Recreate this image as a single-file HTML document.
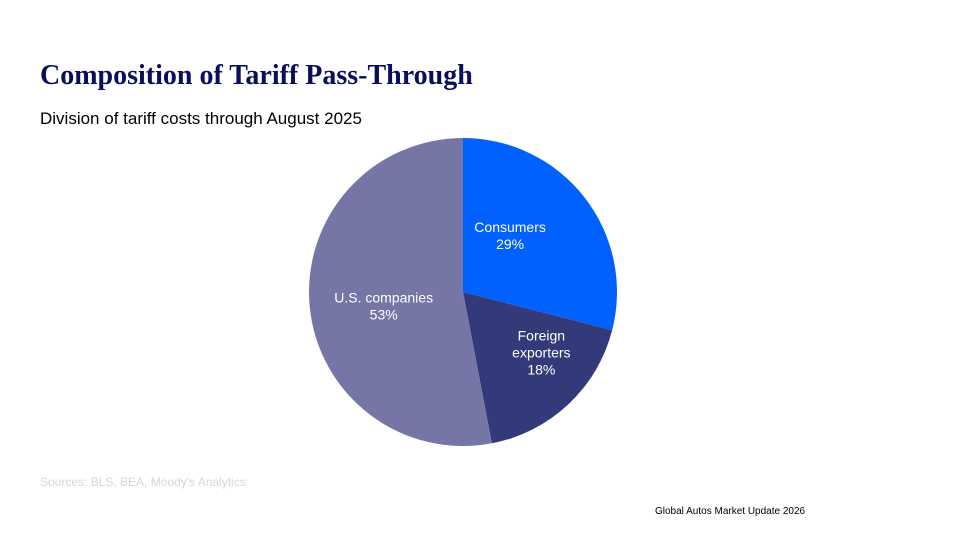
<!DOCTYPE html>
<html><head><meta charset="utf-8"><style>
html,body{margin:0;padding:0;background:#fff;width:960px;height:540px;overflow:hidden;position:relative;font-family:"Liberation Sans",sans-serif}
#title{position:absolute;left:40px;top:60px;font-family:"Liberation Serif",serif;font-weight:bold;font-size:28px;color:#0a0f5c;white-space:nowrap}
#sub{position:absolute;left:40px;top:109px;font-size:17px;color:#000;white-space:nowrap}
#src{position:absolute;left:40px;top:475px;font-size:12px;color:#d6d6d6}
#foot{position:absolute;left:655px;top:506px;font-size:10px;color:#000}
svg{position:absolute;left:0;top:0}
</style></head><body>
<div id="title">Composition of Tariff Pass-Through</div>
<div id="sub">Division of tariff costs through August 2025</div>
<svg id="chart" width="960" height="540"></svg>
<div id="src">Sources: BLS, BEA, Moody's Analytics</div>
<div id="foot">Global Autos Market Update 2026</div>
<script>
const categories = [["Consumers"], ["Foreign","exporters"], ["U.S. companies"]];
const values = [29, 18, 53];
const colors = ["#0061ff", "#333a7a", "#7676a6"];
const cx = 463, cy = 292, r = 154;
const svg = document.getElementById('chart');
const NS = 'http://www.w3.org/2000/svg';
const total = values.reduce((a,b)=>a+b,0);
function pt(a, rr){ return [cx + rr*Math.sin(a), cy - rr*Math.cos(a)]; }
let start = 0;
const labelR = [0.42, 0.62, 0.55];
const labelDx = [-4, 13, 5], labelDy = [-17, -9, 6];
values.forEach((v,i)=>{
  const sweep = v/total*2*Math.PI;
  const end = start + sweep;
  const p0 = pt(start, r), p1 = pt(end, r);
  const large = sweep > Math.PI ? 1 : 0;
  const path = document.createElementNS(NS,'path');
  path.setAttribute('d', `M${cx},${cy} L${p0[0]},${p0[1]} A${r},${r} 0 ${large} 1 ${p1[0]},${p1[1]} Z`);
  path.setAttribute('fill', colors[i]);
  
  
  svg.appendChild(path);
  const mid = start + sweep/2;
  const lp = pt(mid, r*labelR[i]);
  const lines = categories[i].concat([v + '%']);
  const t = document.createElementNS(NS,'text');
  t.setAttribute('text-anchor','middle');
  t.setAttribute('fill','#fff');
  t.setAttribute('font-size','14');
  t.setAttribute('font-family','"Liberation Sans", sans-serif');
  
  
  lines.forEach((s,j)=>{
    const ts = document.createElementNS(NS,'tspan');
    ts.setAttribute('x', lp[0] + labelDx[i]);
    ts.setAttribute('y', lp[1] + labelDy[i] + 5 + (j - (lines.length-1)/2)*17);
    ts.textContent = s;
    t.appendChild(ts);
  });
  svg.appendChild(t);
  start = end;
});
</script>
</body></html>
